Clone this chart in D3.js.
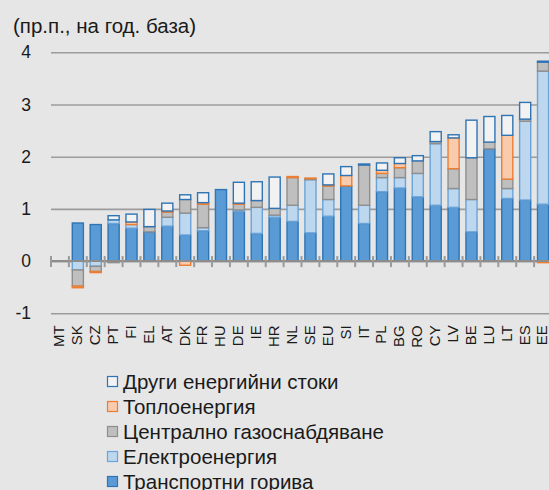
<!DOCTYPE html>
<html>
<head>
<meta charset="utf-8">
<script src="https://cdn.jsdelivr.net/npm/d3@7"></script>
<style>
  body { margin: 0; background: #e6e6e6; }
  svg { display: block; font-family: "Liberation Sans", Arial, sans-serif; }
</style>
</head>
<body>
<div class="chart"></div>
<script>
// категории (държави)
const countries = ["MT","SK","CZ","PT","FI","EL","AT","DK","FR","HU","DE","IE","HR","NL",
                   "SE","EU","SI","IT","PL","BG","RO","CY","LV","BE","LU","LT","ES","EE"]

// приноси по компоненти, пр.п.
const transport   = [0, 0.73, 0.70, 0.72, 0.63, 0.56, 0.67, 0.50, 0.58, 1.37, 0.95, 0.53, 0.84, 0.76,
                     0.54, 0.86, 1.44, 0.72, 1.33, 1.40, 1.23, 1.07, 1.03, 0.56, 2.15, 1.20, 1.17, 1.09]
const electricity = [0, -0.17, -0.10, 0.07, 0.07, 0, 0.17, 0.42, 0.06, 0, 0.03, 0.50, 0.04, 0.31,
                     1.02, 0.32, 0, 0.35, 0.27, 0.20, 0.45, 1.18, 0.36, 0.62, 0, 0.19, 1.51, 2.55]
const gas         = [0, -0.31, -0.10, -0.03, 0, 0.10, 0.10, 0.26, 0.45, 0, 0.11, 0.13, 0.13, 0.53,
                     0.02, 0.26, 0, 0.77, 0.08, 0.19, 0.24, 0.04, 0.38, 0.80, 0.13, 0.18, 0.04, 0.17]
const heat        = [0, -0.03, -0.02, 0, 0.05, 0, 0.02, -0.08, 0.03, 0, 0.02, 0, 0, 0.02,
                     0.01, 0.02, 0.20, 0, 0.06, 0.08, 0, 0, 0.59, 0, 0, 0.84, 0, -0.03]
const other       = [0, 0, 0, 0.08, 0.15, 0.33, 0.15, 0.09, 0.19, 0, 0.40, 0.36, 0.60, 0,
                     0, 0.21, 0.17, 0.02, 0.14, 0.11, 0.10, 0.19, 0.06, 0.72, 0.49, 0.38, 0.32, 0.02]

const yTicks = [-1, 0, 1, 2, 3, 4]

const series = [
    { key: "transport",   name: "Транспортни горива",         fill: "#5b9bd5", stroke: "#2f74b5" },
    { key: "electricity", name: "Електроенергия",             fill: "#bdd7ee", stroke: "#6aa3d8" },
    { key: "gas",         name: "Централно газоснабдяване",   fill: "#bfbfbf", stroke: "#8e8e8e" },
    { key: "heat",        name: "Топлоенергия",               fill: "#f8cbad", stroke: "#ed7d31" },
    { key: "other",       name: "Други енергийни стоки",      fill: "#f2f2f2", stroke: "#2f74b5" }
]

const values = { transport, electricity, gas, heat, other }
const table = countries.map((c, i) => {
    const row = { country: c }
    series.forEach(s => { row[s.key] = values[s.key][i] })
    return row
})

const width = 549, height = 490
const plot = { left: 51, right: 552, top: 52.3, bottom: 313.3 }

const svg = d3.select(".chart").append("svg")
    .attr("width", width)
    .attr("height", height)

const xScale = d3.scaleBand()
    .domain(countries)
    .range([plot.left, plot.right])
    .paddingInner(0.38)
    .paddingOuter(0.19)

const yScale = d3.scaleLinear()
    .domain([-1, 4])
    .range([plot.bottom, plot.top])

// заглавие на оста
svg.append("text")
    .attr("x", 13)
    .attr("y", 33)
    .attr("font-size", "20.5px")
    .attr("fill", "#1a1a1a")
    .text("(пр.п., на год. база)")

// мрежа и етикети по y
const yAxis = d3.axisLeft(yScale)
    .tickValues(yTicks)
    .tickSize(-(width - plot.left))
    .tickPadding(20)
    .tickFormat(d => String(d))

const yAxisGroup = svg.append("g")
    .attr("transform", `translate(${plot.left},0)`)
    .call(yAxis)
yAxisGroup.select(".domain").remove()
yAxisGroup.selectAll("line")
    .attr("stroke", "#9c9c9c")
    .attr("stroke-width", 1.6)
yAxisGroup.selectAll("text")
    .attr("font-size", "17.5px")
    .attr("font-family", "Liberation Sans, Arial, sans-serif")
    .attr("fill", "#1a1a1a")

// колони
const stackLayout = d3.stack()
    .keys(series.map(s => s.key))
    .offset(d3.stackOffsetDiverging)

svg.selectAll("g.bar")
    .data(stackLayout(table))
    .enter()
    .append("g")
    .attr("class", "bar")
    .each(function (d) {
        const s = series.find(s => s.key == d.key)
        d3.select(this).selectAll("rect")
            .data(d.filter(p => p[1] - p[0] != 0))
            .enter()
            .append("rect")
            .attr("x", p => xScale(p.data.country))
            .attr("width", xScale.bandwidth())
            .attr("y", p => yScale(Math.max(p[0], p[1])))
            .attr("height", p => Math.abs(yScale(p[0]) - yScale(p[1])))
            .attr("fill", s.fill)
            .attr("stroke", s.stroke)
            .attr("stroke-width", 1.4)
    })

// нулева ос с чертички
const step = xScale.step()
const edges = d3.range(countries.length + 1).map(i => plot.left + i * step)
const zero = yScale(0)
svg.append("line")
    .attr("x1", plot.left).attr("x2", width)
    .attr("y1", zero).attr("y2", zero)
    .attr("stroke", "#8c8c8c")
    .attr("stroke-width", 2)
svg.selectAll("line.tick-x")
    .data(edges)
    .enter()
    .append("line")
    .attr("class", "tick-x")
    .attr("x1", d => d).attr("x2", d => d)
    .attr("y1", zero - 5).attr("y2", zero + 6)
    .attr("stroke", "#9a9a9a")
    .attr("stroke-width", 2)

// етикети по x
const xAxis = d3.axisBottom(xScale).tickSize(0)
const xAxisGroup = svg.append("g")
    .attr("transform", `translate(0,${plot.bottom})`)
    .call(xAxis)
xAxisGroup.select(".domain").remove()
xAxisGroup.selectAll("text")
    .attr("transform", "rotate(-90)")
    .attr("x", -12)
    .attr("y", -1)
    .attr("dy", "0.36em")
    .attr("text-anchor", "end")
    .attr("font-size", "15px")
    .attr("font-family", "Liberation Sans, Arial, sans-serif")
    .attr("fill", "#1a1a1a")

// легенда
const legendOrder = series.slice().reverse()
const legend = svg.append("g")
    .attr("transform", "translate(107,376)")
legendOrder.forEach((s, i) => {
    const g = legend.append("g").attr("transform", `translate(0,${i * 25})`)
    g.append("rect")
        .attr("x", 0.5).attr("y", 0.5)
        .attr("width", 10).attr("height", 10)
        .attr("fill", s.fill)
        .attr("stroke", s.stroke)
        .attr("stroke-width", 1.2)
    g.append("text")
        .attr("x", 16)
        .attr("y", 5.5)
        .attr("dy", "0.35em")
        .attr("font-size", "20.5px")
        .attr("fill", "#1a1a1a")
        .text(s.name)
})
</script>
</body>
</html>
